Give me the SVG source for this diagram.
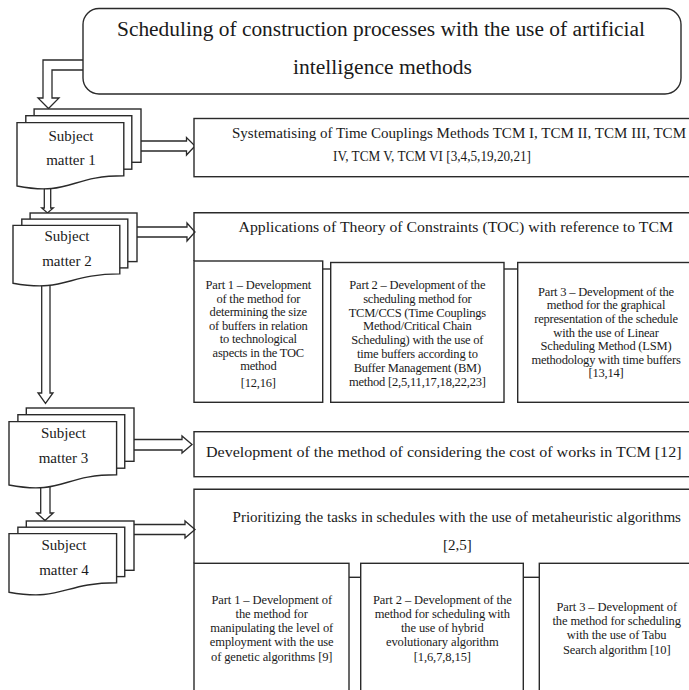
<svg xmlns="http://www.w3.org/2000/svg" width="689" height="690" viewBox="0 0 689 690" font-family="'Liberation Serif','Times New Roman',serif">
<style>
.ln{fill:#fff;stroke:#2a2a2a;stroke-width:1.4;stroke-linejoin:miter}
.op{fill:none;stroke:#2a2a2a;stroke-width:1.4}
.ar{fill:#fff;stroke:#2a2a2a;stroke-width:1.3;stroke-linejoin:miter}
text{font-family:"Liberation Serif","Times New Roman",serif;fill:#1a1a1a}
.t20{font-size:20px}
.t15{font-size:15px}
.sm{font-size:15px;text-anchor:middle}
.p1{font-size:12.5px;text-anchor:middle;letter-spacing:-0.2px}
.p2{font-size:12.5px;text-anchor:middle;letter-spacing:-0.1px}
</style>
<rect width="689" height="690" fill="#fff"/>
<g id="connectors">
<polygon class="ar" points="90,60 43,60 43,98 38,98 48.5,108.5 59,98 52,98 52,70 90,70"/>
<polygon class="ar" points="44.3,180 44.3,208 41.7,208 47.5,213 53.3,208 50.7,208 50.7,180"/>
<polygon class="ar" points="41.7,275 41.7,393 38,393 45.5,403.5 53,393 50,393 50,275"/>
<polygon class="ar" points="40.7,478 40.7,513 36.7,513 45,520.5 53.3,513 50,513 50,478"/>
<polygon class="ar" points="135,141 186.5,141 186.5,137.5 195,146 186.5,155 186.5,151 135,151"/>
<polygon class="ar" points="131,227 187,227 187,223 195,232 187,241 187,237 131,237"/>
<polygon class="ar" points="128,439.5 182,439.5 182,436 192,444.5 182,453 182,450 128,450"/>
<polygon class="ar" points="128,524.5 185,524.5 185,521 195,529.5 185,538 185,534.5 128,534.5"/>
<line class="op" x1="322.7" y1="269" x2="330.7" y2="269"/>
<line class="op" x1="504" y1="269" x2="517.7" y2="269"/>
<line class="op" x1="349" y1="577.3" x2="360.7" y2="577.3"/>
<line class="op" x1="523.3" y1="577.3" x2="539.3" y2="577.3"/>
</g>
<g id="title">
<rect class="ln" x="83" y="8.5" width="598" height="85.5" rx="16"/>
<text class="t20" x="117" y="36" textLength="528" lengthAdjust="spacingAndGlyphs">Scheduling of construction processes with the use of artificial</text>
<text class="t20" x="293" y="74" textLength="179" lengthAdjust="spacingAndGlyphs">intelligence methods</text>
</g>
<g id="subject1">
<rect class="ln" x="34.1" y="109" width="106.9" height="53.3"/>
<rect class="ln" x="25.8" y="115.7" width="106" height="53.5"/>
<path class="ln" d="M17,122.6 H123.8 V175.7 C70.3,175.7 70.3,196.2 17,186 Z"/>
<text class="sm" x="71" y="140.5">Subject</text>
<text class="sm" x="71" y="165">matter 1</text>
</g>
<g id="subject2">
<rect class="ln" x="30.1" y="213" width="106.9" height="48.6"/>
<rect class="ln" x="21.8" y="219.1" width="106" height="48.8"/>
<path class="ln" d="M13,225.4 H119.8 V273.9 C66.3,273.9 66.3,292.6 13,283.2 Z"/>
<text class="sm" x="67" y="241">Subject</text>
<text class="sm" x="67" y="266">matter 2</text>
</g>
<g id="subject3">
<rect class="ln" x="26.3" y="408" width="107.7" height="53.3"/>
<rect class="ln" x="17.9" y="414.7" width="106.85" height="53.5"/>
<path class="ln" d="M9,421.6 H116.6 V474.7 C62.75,474.7 62.75,495.2 9,485 Z"/>
<text class="sm" x="63.5" y="437.5">Subject</text>
<text class="sm" x="63.5" y="462.5">matter 3</text>
</g>
<g id="subject4">
<rect class="ln" x="26.3" y="521" width="107.7" height="49.3"/>
<rect class="ln" x="17.9" y="527.2" width="106.85" height="49.4"/>
<path class="ln" d="M9,533.6 H116.6 V582.7 C62.75,582.7 62.75,601.7 9,592.2 Z"/>
<text class="sm" x="64" y="549.5">Subject</text>
<text class="sm" x="64" y="574.5">matter 4</text>
</g>
<g id="box1">
<rect class="ln" x="194" y="118.5" width="520" height="58.2"/>
<text class="t15" x="232" y="138" textLength="454" lengthAdjust="spacingAndGlyphs">Systematising of Time Couplings Methods TCM I, TCM II, TCM III, TCM</text>
<text class="t15" x="333" y="161" textLength="198" lengthAdjust="spacingAndGlyphs">IV, TCM V, TCM VI [3,4,5,19,20,21]</text>
</g>
<g id="box2">
<path class="op" d="M194,261 V212.7 H700"/>
<text class="t15" x="238.5" y="231.5" textLength="434.5" lengthAdjust="spacingAndGlyphs">Applications of Theory of Constraints (TOC) with reference to TCM</text>
</g>
<g id="box2-part1">
<rect class="ln" x="194" y="261" width="128.7" height="141.3"/>
<text class="p1" x="258.3" y="289">Part 1 – Development</text>
<text class="p1" x="258.3" y="302.5">of the method for</text>
<text class="p1" x="258.3" y="316">determining the size</text>
<text class="p1" x="258.3" y="329.5">of buffers in relation</text>
<text class="p1" x="258.3" y="343">to technological</text>
<text class="p1" x="258.3" y="356.5">aspects in the TOC</text>
<text class="p1" x="258.3" y="370">method</text>
<text class="p1" x="258.3" y="386.5">[12,16]</text>
</g>
<g id="box2-part2">
<rect class="ln" x="330.7" y="262.5" width="173.3" height="139.8"/>
<text class="p1" x="417.3" y="289">Part 2 – Development of the</text>
<text class="p1" x="417.3" y="302.8">scheduling method for</text>
<text class="p1" x="417.3" y="316.6">TCM/CCS (Time Couplings</text>
<text class="p1" x="417.3" y="330.4">Method/Critical Chain</text>
<text class="p1" x="417.3" y="344.2">Scheduling) with the use of</text>
<text class="p1" x="417.3" y="358">time buffers according to</text>
<text class="p1" x="417.3" y="371.8">Buffer Management (BM)</text>
<text class="p1" x="417.3" y="385.6">method [2,5,11,17,18,22,23]</text>
</g>
<g id="box2-part3">
<rect class="ln" x="517.7" y="262.5" width="190" height="139.8"/>
<text class="p1" x="606" y="295.7">Part 3 – Development of the</text>
<text class="p1" x="606" y="309.3">method for the graphical</text>
<text class="p1" x="606" y="322.9">representation of the schedule</text>
<text class="p1" x="606" y="336.5">with the use of Linear</text>
<text class="p1" x="606" y="350.1">Scheduling Method (LSM)</text>
<text class="p1" x="606" y="363.7">methodology with time buffers</text>
<text class="p1" x="606" y="377.3">[13,14]</text>
</g>
<g id="box3">
<rect class="ln" x="194" y="431.7" width="520" height="45"/>
<text class="t15" x="206" y="456.5" textLength="475.5" lengthAdjust="spacingAndGlyphs">Development of the method of considering the cost of works in TCM [12]</text>
</g>
<g id="box4">
<path class="op" d="M194,563.3 V489.3 H700"/>
<text class="t15" x="232.5" y="521.5" textLength="448.5" lengthAdjust="spacingAndGlyphs">Prioritizing the tasks in schedules with the use of metaheuristic algorithms</text>
<text class="sm" x="457.3" y="549.5">[2,5]</text>
</g>
<g id="box4-part1">
<rect class="ln" x="194" y="563.3" width="155" height="140"/>
<text class="p2" x="271.7" y="604">Part 1 – Development of</text>
<text class="p2" x="271.7" y="618">the method for</text>
<text class="p2" x="271.7" y="632">manipulating the level of</text>
<text class="p2" x="271.7" y="646">employment with the use</text>
<text class="p2" x="271.7" y="661">of genetic algorithms [9]</text>
</g>
<g id="box4-part2">
<rect class="ln" x="360.7" y="563.3" width="162.6" height="140"/>
<text class="p2" x="442.3" y="604">Part 2 – Development of the</text>
<text class="p2" x="442.3" y="618">method for scheduling with</text>
<text class="p2" x="442.3" y="632">the use of hybrid</text>
<text class="p2" x="442.3" y="646">evolutionary algorithm</text>
<text class="p2" x="442.3" y="661">[1,6,7,8,15]</text>
</g>
<g id="box4-part3">
<rect class="ln" x="539.3" y="563.3" width="170" height="140"/>
<text class="p2" x="616.7" y="610.5">Part 3 – Development of</text>
<text class="p2" x="616.7" y="624.5">the method for scheduling</text>
<text class="p2" x="616.7" y="638.5">with the use of Tabu</text>
<text class="p2" x="616.7" y="653.5">Search algorithm [10]</text>
</g>
</svg>
